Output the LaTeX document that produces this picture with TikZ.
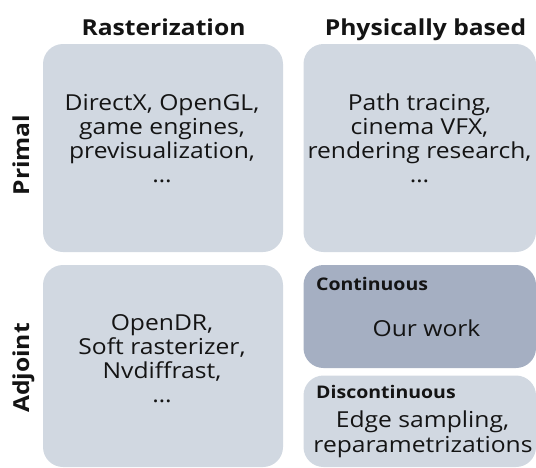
\documentclass[tikz,border=0pt]{standalone}
\usepackage{fontspec}
\setmainfont{Open Sans}[FakeStretch=1.12]
\definecolor{boxlight}{HTML}{D1D8E1}
\definecolor{boxdark}{HTML}{A5AFC2}
\definecolor{ink}{HTML}{141414}
\begin{document}
\begin{tikzpicture}[x=1pt,y=-1pt,
  cell/.style={rounded corners=20pt, fill=boxlight, draw=none},
  celldark/.style={cell, fill=boxdark},
  ln/.style={anchor=base, inner sep=0pt, text=ink, font=\fontsize{22}{26}\selectfont},
  head/.style={anchor=base, inner sep=0pt, text=ink, font=\fontsize{22}{26}\selectfont\bfseries},
  side/.style={head, rotate=90},
  tag/.style={anchor=base west, inner sep=0pt, text=ink, font=\fontsize{17.4}{21}\selectfont\bfseries}]
\useasboundingbox (0,0) rectangle (536,467);
% boxes
\path[cell] (43,44) rectangle (283,252);
\path[cell] (303.5,44) rectangle (536,252);
\path[cell] (43,265) rectangle (283,467);
\path[celldark] (303.5,265) rectangle (536,368);
\path[cell] (303.5,375.5) rectangle (536,467);
% headers
\node[head] (hr) at (163.5,35) {Rasterization};
\node[head] (hp) at (425.5,35) {Physically based};
\node[side] (sp) at (29,155) {Primal};
\node[side] (sa) at (29,368) {Adjoint};
% primal rasterization
\node[ln] (pr1) at (162,110) {DirectX, OpenGL,};
\node[ln] (pr2) at (162,134) {game engines,};
\node[ln] (pr3) at (162,158) {previsualization,};
\node[ln] (pr4) at (162,182) {\dots};
% primal physically based
\node[ln] (pp1) at (419.5,110) {Path tracing,};
\node[ln] (pp2) at (419.5,134) {cinema VFX,};
\node[ln] (pp3) at (419.5,158) {rendering research,};
\node[ln] (pp4) at (419.5,182) {\dots};
% adjoint rasterization
\node[ln] (ar1) at (162,330) {OpenDR,};
\node[ln] (ar2) at (162,354) {Soft rasterizer,};
\node[ln] (ar3) at (162,378) {Nvdiffrast,};
\node[ln] (ar4) at (162,402) {\dots};
% adjoint physically based
\node[tag] (tc) at (316,290) {Continuous};
\node[ln] (c1) at (426.5,336) {Our work};
\node[tag] (td) at (316,398) {Discontinuous};
\node[ln] (d1) at (422.5,427) {Edge sampling,};
\node[ln] (d2) at (423,452) {reparametrizations};
\end{tikzpicture}
\end{document}
